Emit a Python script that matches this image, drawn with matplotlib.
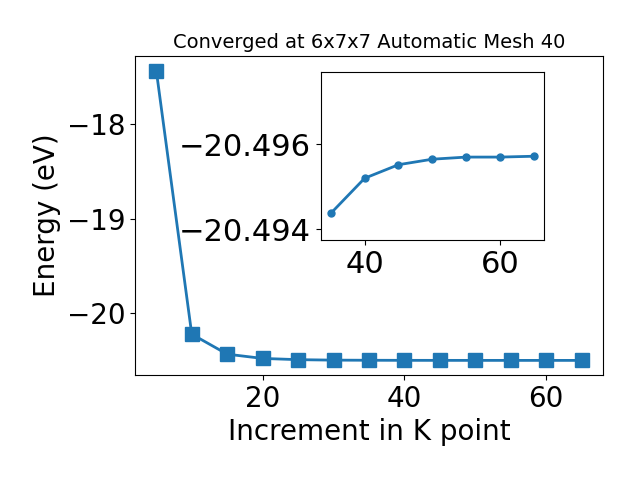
import matplotlib
matplotlib.use("Agg")
import matplotlib.pyplot as plt

# k-point increment vs total energy
kpoints = [5, 10, 15, 20, 25, 30, 35, 40, 45, 50, 55, 60, 65]
energy = [-17.437, -20.219, -20.430, -20.475, -20.488, -20.4930,
          -20.49437, -20.49520, -20.49552, -20.49565, -20.49570,
          -20.49570, -20.49572]

# zoomed region
inset_k = kpoints[6:]
inset_e = energy[6:]

fig = plt.figure(figsize=(6.4, 4.8), dpi=100)
ax = fig.add_axes([0.211, 0.219, 0.731, 0.664])
ax.plot(kpoints, energy, marker='s', markersize=10, linewidth=2, color='C0')
ax.set_xlabel('Increment in K point', fontsize=20)
ax.set_ylabel('Energy (eV)', fontsize=20)
ax.set_title('Converged at 6x7x7 Automatic Mesh 40', fontsize=14)
ax.tick_params(labelsize=20)

ins = fig.add_axes([0.501, 0.5, 0.349, 0.349])
ins.plot(inset_k, inset_e, marker='o', markersize=5, linewidth=2, color='C0')
ins.set_ylim(-20.49374, -20.4977)
ins.set_yticks([-20.496, -20.494])
ins.set_xticks([40, 60])
ins.ticklabel_format(axis='y', useOffset=False)
ins.tick_params(labelsize=22)

fig.savefig('out.png')
